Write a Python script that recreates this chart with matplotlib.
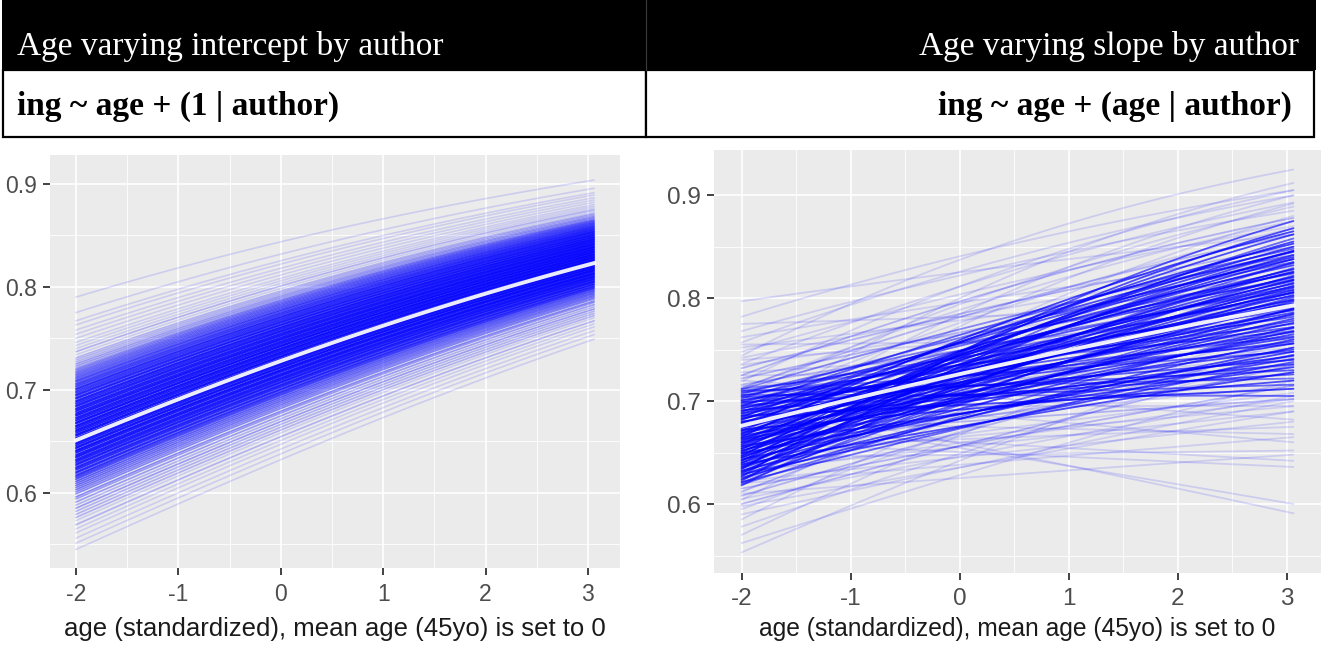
import numpy as np
import matplotlib.pyplot as plt
from matplotlib.collections import LineCollection
from matplotlib.patches import Rectangle

# standardized age range covered by the fitted lines
age_min, age_max = -2.0, 3.06

# ---- left panel: varying intercept by author ----
# population line (value at age_min, value at age_max)
left_mean = [0.651, 0.823]
# fitted value at age_min for each author line, and how many authors share it
left_start = [
    0.545, 0.551, 0.556, 0.561, 0.565, 0.569, 0.573, 0.576, 0.579, 0.582,
    0.585, 0.588, 0.591, 0.594, 0.596, 0.599, 0.601, 0.603, 0.605, 0.607,
    0.609, 0.611, 0.613, 0.6145,
    0.616, 0.6172, 0.6191, 0.6203, 0.6222, 0.6236, 0.6249, 0.6268, 0.628, 0.6297,
    0.6311, 0.6324, 0.6342, 0.6355, 0.6368, 0.6387, 0.6401, 0.6413, 0.6432, 0.6444,
    0.6461, 0.6476, 0.6489, 0.6507, 0.652, 0.6533, 0.6552, 0.6564, 0.6581, 0.6596,
    0.6609, 0.6626, 0.6641, 0.6653, 0.6672, 0.6684, 0.6701, 0.6716, 0.6729, 0.6747,
    0.676, 0.6774, 0.6792, 0.6806, 0.6819, 0.6837, 0.685, 0.6866, 0.6881, 0.6893,
    0.6912, 0.6924, 0.6942, 0.6955, 0.6971, 0.6986, 0.7002, 0.7014, 0.7031, 0.7046,
    0.706, 0.7077, 0.709, 0.7106, 0.7121, 0.7136,
    0.715, 0.7165, 0.718, 0.7195, 0.721, 0.723, 0.725, 0.727, 0.729, 0.731,
    0.734, 0.737, 0.740, 0.743, 0.746, 0.750, 0.754, 0.758, 0.763, 0.767,
    0.775, 0.790,
]
left_n = [
    1, 1, 1, 1, 1, 2, 1, 2, 2, 2,
    3, 2, 3, 3, 4, 4, 4, 5, 5, 6,
    6, 7, 7, 8,
    8, 9, 10, 10, 11, 11, 12, 12, 12, 13,
    13, 13, 14, 14, 14, 14, 15, 15, 15, 15,
    15, 16, 15, 15, 16, 15, 15, 16, 15, 15,
    16, 15, 15, 15, 16, 15, 15, 14, 14, 15,
    14, 14, 14, 13, 13, 13, 13, 12, 12, 12,
    12, 11, 11, 11, 10, 10, 10, 9, 9, 8,
    8, 7, 7, 6, 6, 5,
    5, 5, 4, 4, 3, 3, 3, 2, 2, 2,
    1, 2, 1, 1, 1, 1, 1, 1, 1, 1,
    1, 1,
]

# ---- right panel: varying slope by author ----
right_mean = [0.676, 0.793]
# fitted value at age_min / age_max per author line, and authors on it
right_start = [
    # core
    0.618, 0.619, 0.6205, 0.6213, 0.6224, 0.6237, 0.6243, 0.6256, 0.6268, 0.6274,
    0.6289, 0.6296, 0.6308, 0.6317, 0.6325, 0.6339, 0.6346, 0.6358, 0.6364, 0.6377,
    0.6385, 0.6396, 0.6404, 0.6418, 0.6425, 0.6433, 0.6447, 0.6455, 0.6466, 0.6472,
    0.6486, 0.6494, 0.6503, 0.6515, 0.6522, 0.6534, 0.6541, 0.6556, 0.6563, 0.6575,
    0.6582, 0.6596, 0.6604, 0.6613, 0.6627, 0.6635, 0.6644, 0.6652, 0.6666, 0.6673,
    0.6685, 0.6692, 0.6706, 0.6714, 0.6723, 0.6737, 0.6745, 0.6752, 0.6768, 0.6774,
    0.6786, 0.6795, 0.6803, 0.6817, 0.6826, 0.6833, 0.6845, 0.6857, 0.6862, 0.6878,
    0.6884, 0.6896, 0.6905, 0.6913, 0.6927, 0.6934, 0.6946, 0.6955, 0.6963, 0.6977,
    0.6985, 0.6994, 0.7006, 0.7012, 0.7025, 0.7037, 0.7044, 0.7056, 0.7063, 0.7075,
    0.7084, 0.7096, 0.7103, 0.7114, 0.712,
    # high starts
    0.797, 0.782, 0.775, 0.768, 0.762, 0.757, 0.752, 0.748, 0.744, 0.740,
    0.736, 0.732, 0.728, 0.725, 0.722, 0.719, 0.716, 0.713,
    # low starts
    0.553, 0.562, 0.570, 0.578, 0.585, 0.590, 0.595, 0.600, 0.604, 0.608,
    0.612, 0.615, 0.618,
    # flat or falling
    0.700, 0.688, 0.660, 0.672, 0.645, 0.705, 0.680, 0.655, 0.720, 0.632,
    0.695, 0.665, 0.640, 0.685, 0.710, 0.650, 0.675, 0.620, 0.610,
    # scattered light lines
    0.700, 0.690, 0.712, 0.705, 0.695, 0.725, 0.715, 0.630, 0.622, 0.645,
    0.662, 0.605, 0.598, 0.640, 0.655, 0.668, 0.682, 0.742, 0.755, 0.735,
]
right_end = [
    0.835, 0.772, 0.806, 0.745, 0.858, 0.790, 0.822, 0.760, 0.875, 0.801,
    0.738, 0.846, 0.785, 0.815, 0.752, 0.868, 0.797, 0.829, 0.768, 0.812,
    0.728, 0.842, 0.780, 0.855, 0.808, 0.748, 0.826, 0.794, 0.862, 0.776,
    0.818, 0.741, 0.838, 0.803, 0.765, 0.850, 0.789, 0.821, 0.733, 0.810,
    0.846, 0.771, 0.799, 0.834, 0.756, 0.817, 0.784, 0.865, 0.744, 0.806,
    0.828, 0.762, 0.792, 0.840, 0.720, 0.814, 0.778, 0.853, 0.798, 0.750,
    0.825, 0.786, 0.736, 0.832, 0.805, 0.767, 0.845, 0.712, 0.795, 0.820,
    0.758, 0.838, 0.782, 0.726, 0.811, 0.772, 0.848, 0.740, 0.802, 0.763,
    0.824, 0.716, 0.790, 0.756, 0.835, 0.730, 0.808, 0.775, 0.705, 0.818,
    0.748, 0.788, 0.722, 0.842, 0.768,
    0.862, 0.905, 0.792, 0.885, 0.840, 0.900, 0.815, 0.870, 0.925, 0.780,
    0.893, 0.850, 0.760, 0.878, 0.825, 0.905, 0.795, 0.862,
    0.760, 0.720, 0.790, 0.745, 0.812, 0.700, 0.770, 0.735, 0.830, 0.752,
    0.790, 0.715, 0.845,
    0.591, 0.600, 0.636, 0.642, 0.652, 0.660, 0.668, 0.675, 0.682, 0.690,
    0.695, 0.702, 0.708, 0.712, 0.722, 0.728, 0.735, 0.665, 0.648,
    0.742, 0.752, 0.875, 0.889, 0.868, 0.730, 0.705, 0.702, 0.680, 0.695,
    0.715, 0.705, 0.690, 0.880, 0.892, 0.900, 0.912, 0.835, 0.760, 0.805,
]
right_n = [
    5, 5, 6, 6, 6, 6, 6, 7, 7, 7,
    7, 7, 7, 7, 8, 8, 8, 8, 8, 8,
    8, 8, 8, 9, 8, 9, 8, 9, 8, 9,
    9, 8, 9, 9, 8, 9, 9, 8, 9, 9,
    8, 9, 9, 8, 9, 9, 8, 9, 9, 8,
    9, 8, 9, 9, 8, 9, 8, 9, 8, 8,
    8, 8, 8, 8, 8, 7, 8, 7, 8, 7,
    7, 7, 7, 7, 7, 7, 6, 7, 6, 6,
    6, 6, 6, 6, 5, 6, 5, 5, 5, 5,
    5, 5, 4, 4, 4,
    1, 1, 1, 1, 1, 1, 1, 1, 1, 1,
    1, 2, 1, 2, 2, 1, 2, 2,
    1, 1, 1, 1, 1, 1, 1, 2, 1, 2,
    2, 2, 1,
    1, 1, 1, 1, 1, 1, 1, 1, 1, 1,
    1, 2, 1, 2, 1, 2, 2, 1, 1,
    1, 1, 1, 1, 1, 1, 1, 1, 1, 1,
    1, 1, 1, 1, 1, 1, 1, 1, 1, 1,
]

titles = ["Age varying intercept by author", "Age varying slope by author"]
formulas = ["ing ~ age + (1 | author)", "ing ~ age + (age | author)"]
xlab = "age (standardized), mean age (45yo) is set to 0"
xticks = [-2, -1, 0, 1, 2, 3]
yticks = [0.6, 0.7, 0.8, 0.9]


def logit(p):
    p = np.asarray(p, dtype=float)
    return np.log(p / (1 - p))


def inv_logit(z):
    return 1 / (1 + np.exp(-z))


age = np.linspace(age_min, age_max, 80)
frac = (age - age_min) / (age_max - age_min)


def curve(p0, p1):
    z0, z1 = logit(p0), logit(p1)
    return inv_logit(z0 + (z1 - z0) * frac)


line_alpha = 0.13


def rgba(n):
    return (0.0, 0.0, 1.0, 1 - (1 - line_alpha) ** n)


fig = plt.figure(figsize=(13.24, 6.5), dpi=100)

# header boxes (pixel coordinates)
hd = fig.add_axes([0, 0, 1, 1])
hd.set_xlim(0, 1324)
hd.set_ylim(650, 0)
hd.axis("off")
hd.add_patch(Rectangle((2, 0), 1314, 70, fc="black", ec="none"))
hd.plot([646, 646], [0, 70], color="#3a3a3a", lw=0.8)
hd.add_patch(Rectangle((3, 70), 643, 67, fc="white", ec="black", lw=1.6))
hd.add_patch(Rectangle((646, 70), 668, 67, fc="white", ec="black", lw=1.6))
serif = "Liberation Serif"
hd.text(17, 55, titles[0], color="white", fontsize=24, family=serif, va="baseline")
hd.text(1299, 55, titles[1], color="white", fontsize=24, family=serif,
        va="baseline", ha="right")
hd.text(17, 115, formulas[0], color="black", fontsize=24, family=serif,
        fontweight="bold", va="baseline")
hd.text(1292, 115, formulas[1], color="black", fontsize=24, family=serif,
        fontweight="bold", va="baseline", ha="right")

ax1 = fig.add_axes([50 / 1324, 82 / 650, 570 / 1324, 413 / 650])
ax2 = fig.add_axes([714 / 1324, 77 / 650, 607 / 1324, 423 / 650])

# left: common slope taken from the population line
z_slope = logit(left_mean[1]) - logit(left_mean[0])
segs = []
for s in left_start:
    segs.append(np.column_stack([age, inv_logit(logit(s) + z_slope * frac)]))
ax1.add_collection(LineCollection(segs, colors=[rgba(n) for n in left_n],
                                  linewidths=1.2, capstyle="round"))
ax1.plot(age, curve(*left_mean), color="white", lw=2.8, alpha=0.92)

segs = []
for s, e in zip(right_start, right_end):
    segs.append(np.column_stack([age, curve(s, e)]))
ax2.add_collection(LineCollection(segs, colors=[rgba(n) for n in right_n],
                                  linewidths=1.3, capstyle="round"))
ax2.plot(age, curve(*right_mean), color="white", lw=2.8, alpha=0.92)

ax1.set_ylim(0.527, 0.928)
ax2.set_ylim(0.533, 0.944)
for ax, tsize, lsize, lpad in [(ax1, 16.5, 18.5, 8), (ax2, 17.5, 17.7, 5)]:
    ax.set_xlim(age_min - 0.253, age_max + 0.253)
    ax.set_facecolor("#EBEBEB")
    for sp in ax.spines.values():
        sp.set_visible(False)
    ax.set_xticks(xticks)
    ax.set_xticklabels([str(t) for t in xticks])
    ax.set_yticks(yticks)
    ax.set_yticklabels([f"{t:.1f}" for t in yticks])
    ax.set_xticks([-1.5, -0.5, 0.5, 1.5, 2.5], minor=True)
    ax.set_yticks([0.55, 0.65, 0.75, 0.85], minor=True)
    ax.grid(which="major", color="white", lw=1.2)
    ax.grid(which="minor", color="white", lw=0.6)
    ax.set_axisbelow(True)
    ax.tick_params(which="major", length=5, width=1.3, color="#333333",
                   labelcolor="#4D4D4D", labelsize=tsize, pad=4.5)
    ax.tick_params(axis="x", which="major", pad=5.5)
    ax.tick_params(which="minor", length=0)
    for lab in ax.get_xticklabels() + ax.get_yticklabels():
        lab.set_family("Liberation Sans")
    ax.set_xlabel(xlab, fontsize=lsize, family="Liberation Sans",
                  color="#1a1a1a", labelpad=lpad)

fig.savefig("out.png", dpi=100)
